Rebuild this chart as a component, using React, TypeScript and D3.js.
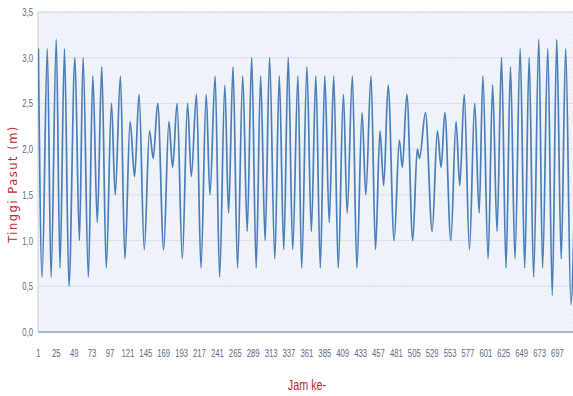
import React from "react";
import * as d3 from "d3";

// Tidal extremes (hour, height in m)
const extremeHours = [
  1, 6, 13, 18, 25, 30, 36, 42, 50, 56, 61, 68, 74, 80, 86, 92, 99, 104, 111, 117,
  124, 130, 136, 143, 150, 155, 161, 169, 176, 181, 187, 194, 201, 206, 213, 219, 226, 231, 238, 244,
  251, 256, 262, 268, 275, 281, 287, 293, 299, 305, 311, 318, 324, 330, 336, 342, 349, 354, 361, 367,
  373, 379, 385, 391, 397, 403, 410, 415, 422, 428, 435, 440, 447, 453, 459, 464, 470, 478, 485, 489,
  495, 503, 509, 512, 520, 529, 536, 541, 546, 554, 561, 566, 572, 579, 586, 592, 597, 604, 610, 616,
  622, 628, 634, 640, 647, 653, 659, 665, 672, 677, 684, 690, 696, 702, 708, 715, 720,
];
const extremeHeights = [
  3.1, 0.6, 3.1, 0.6, 3.2, 0.7, 3.1, 0.5, 3.0, 1.0, 3.0, 0.6, 2.8, 1.2, 2.9, 0.7, 2.5, 1.5, 2.8, 0.8,
  2.3, 1.7, 2.6, 0.9, 2.2, 1.9, 2.5, 0.9, 2.3, 1.8, 2.5, 0.8, 2.5, 1.7, 2.6, 0.7, 2.6, 1.5, 2.8, 0.6,
  2.7, 1.3, 2.9, 0.7, 2.8, 1.1, 3.0, 0.7, 2.8, 1.0, 3.0, 0.8, 2.8, 0.9, 3.0, 0.9, 2.8, 0.7, 2.9, 1.1,
  2.8, 0.7, 2.8, 1.2, 2.8, 0.7, 2.6, 1.3, 2.8, 0.7, 2.4, 1.5, 2.8, 0.9, 2.2, 1.6, 2.7, 1.0, 2.1, 1.8,
  2.6, 1.0, 2.0, 1.9, 2.4, 1.1, 2.2, 1.8, 2.4, 1.0, 2.3, 1.6, 2.6, 0.9, 2.5, 1.3, 2.8, 0.8, 2.7, 1.1,
  3.0, 0.7, 2.9, 0.8, 3.1, 0.7, 3.0, 0.6, 3.2, 0.7, 3.1, 0.4, 3.2, 0.8, 3.1, 0.3, 1.5,
];
const xTickLabels = [
  1, 25, 49, 73, 97, 121, 145, 169, 193, 217, 241, 265, 289, 313, 337, 361, 385, 409, 433, 457,
  481, 505, 529, 553, 577, 601, 625, 649, 673, 697,
];
const yTicks = [0, 0.5, 1, 1.5, 2, 2.5, 3, 3.5];
const yTitle = "Tinggi Pasut (m)";
const xTitle = "Jam ke-";

const W = 573;
const H = 396;
const left = 38;
const right = 575;
const top = 12;
const bottom = 332;

export default function App() {
  const x = d3.scaleLinear().domain([0.5, 720.5]).range([left, right]);
  const y = d3.scaleLinear().domain([0, 3.5]).range([bottom, top]);
  const pts: [number, number][] = extremeHours.map((h, i) => [h, extremeHeights[i]]);
  const line = d3
    .line<[number, number]>()
    .x((d) => x(d[0]))
    .y((d) => y(d[1]))
    .curve(d3.curveMonotoneX);
  const fmt = (v: number) => v.toFixed(1).replace(".", ",");
  const font = "'Liberation Sans', Arial, sans-serif";
  const sx = 0.7;

  return (
    <svg
      width={W}
      height={H}
      style={{ position: "absolute", left: 0, top: 0, background: "#fff" }}
    >
      <defs>
        <pattern id="hatch" width="3" height="3" patternUnits="userSpaceOnUse" patternTransform="rotate(45)">
          <rect width="3" height="3" fill="#f2f5fa" />
          <line x1="0" y1="0" x2="0" y2="3" stroke="#e0e7f0" strokeWidth="1" />
        </pattern>
        <clipPath id="plotclip">
          <rect x={left} y={top - 4} width={right - left} height={bottom - top + 8} />
        </clipPath>
      </defs>
      <rect x={left} y={top} width={right - left} height={bottom - top} fill="url(#hatch)" />
      {yTicks.map((t) => (
        <line
          key={t}
          x1={left}
          x2={right}
          y1={y(t)}
          y2={y(t)}
          stroke={t === 3.5 ? "#c5d2e2" : "#d8dfe9"}
          strokeWidth={1}
        />
      ))}
      <line x1={left} x2={left} y1={top} y2={bottom} stroke="#c9d1dc" strokeWidth={1} />
      <line x1={left} x2={right} y1={bottom} y2={bottom} stroke="#a9b7ca" strokeWidth={2} />
      <path
        d={line(pts) || ""}
        fill="none"
        stroke="#4a7ebb"
        strokeWidth={1.7}
        strokeLinejoin="round"
        clipPath="url(#plotclip)"
      />
      {yTicks.map((t) => (
        <text
          key={t}
          transform={`translate(33,${y(t) + 4}) scale(${sx},1)`}
          textAnchor="end"
          fontFamily={font}
          fontSize={11}
          fill="#5b6a85"
        >
          {fmt(t)}
        </text>
      ))}
      {xTickLabels.map((t) => (
        <text
          key={t}
          transform={`translate(${x(t)},357) scale(${sx},1)`}
          textAnchor="middle"
          fontFamily={font}
          fontSize={11}
          fill="#5b6a85"
        >
          {t}
        </text>
      ))}
      <text
        transform={`translate(17,184) rotate(-90)`}
        textAnchor="middle"
        fontFamily="'DejaVu Sans', sans-serif"
        fontSize={11.5}
        letterSpacing={1.5}
        fill="#c0282d"
      >
        {yTitle}
      </text>
      <text
        transform={`translate(307,390) scale(0.72,1)`}
        textAnchor="middle"
        fontFamily={font}
        fontSize={15}
        fill="#c0282d"
      >
        {xTitle}
      </text>
    </svg>
  );
}
